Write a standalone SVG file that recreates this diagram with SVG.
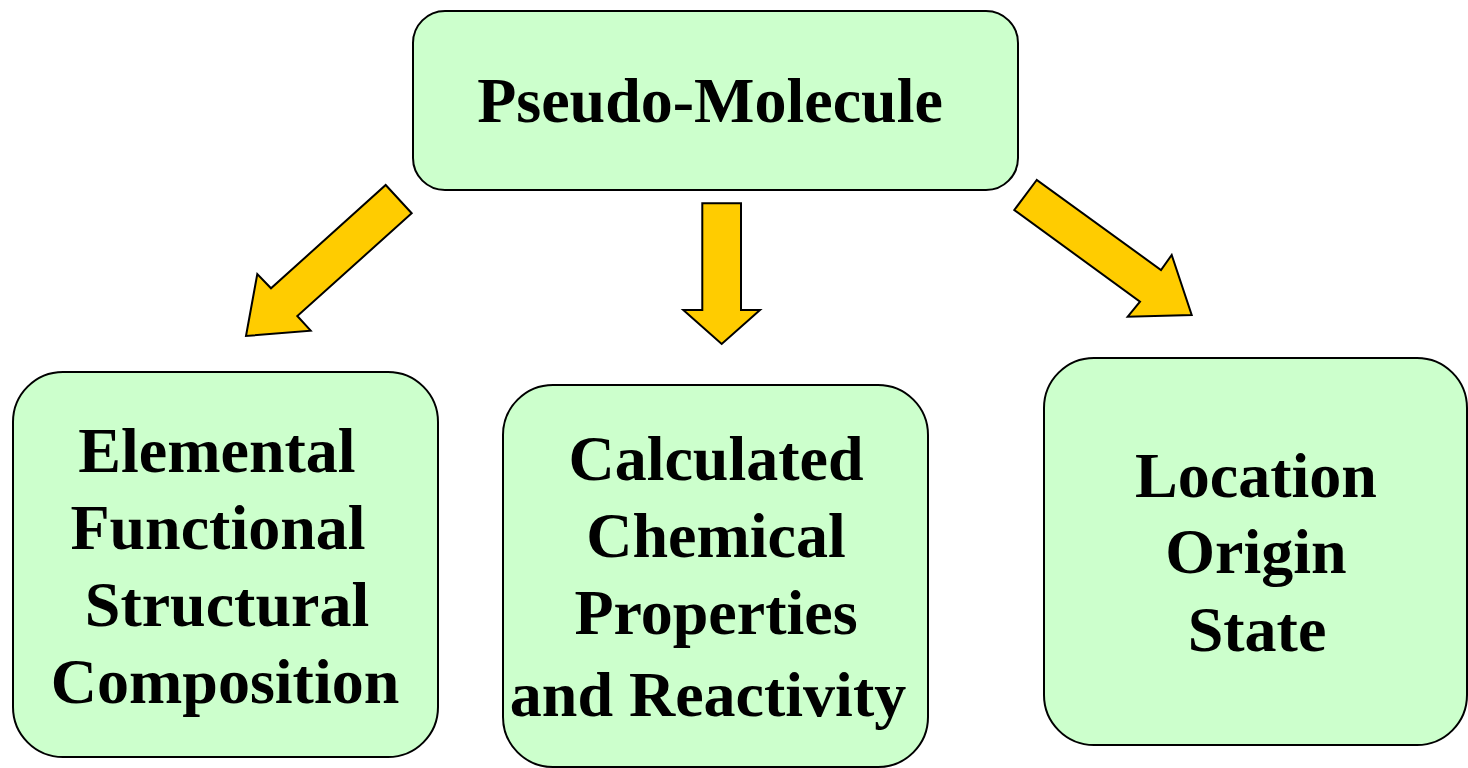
<svg xmlns="http://www.w3.org/2000/svg" width="1468" height="768" viewBox="0 0 1468 768">
<style>
.box{fill:#CCFFCC;stroke:#000;stroke-width:2}
.arrow{fill:#FFCC00;stroke:#000;stroke-width:2;stroke-linejoin:miter}
.t{font-family:"Liberation Serif","Times New Roman",serif;font-weight:bold;font-size:64px;fill:#000;text-anchor:middle}
</style>
<rect width="1468" height="768" fill="#fff"/>
<g id="connectors">
<polygon class="arrow" points="385.7,185 411.7,213.3 297.3,316 310.7,330.7 246,336 257.3,274 271,288.3"/>
<polygon class="arrow" points="702.3,203.3 741,203.3 741,310 760,310 721.7,344 683.3,310 702.3,310"/>
<polygon class="arrow" points="1036.7,180 1014.3,210 1140,301.7 1127.7,316.7 1191.7,315 1171.7,255 1161,270"/>
</g>
<g id="node-top">
<rect class="box" x="413" y="11" width="605" height="179" rx="32" ry="32"/>
<text class="t" x="710" y="122">Pseudo-Molecule</text>
</g>
<g id="node-left">
<rect class="box" x="13" y="372" width="425" height="385" rx="50" ry="50"/>
<text class="t" x="217" y="472">Elemental</text>
<text class="t" x="218" y="549">Functional</text>
<text class="t" x="227" y="626">Structural</text>
<text class="t" x="225" y="703">Composition</text>
</g>
<g id="node-middle">
<rect class="box" x="503" y="385" width="425" height="382" rx="50" ry="50"/>
<text class="t" x="716" y="480">Calculated</text>
<text class="t" x="716" y="557">Chemical</text>
<text class="t" x="716" y="634">Properties</text>
<text class="t" x="708" y="716">and Reactivity</text>
</g>
<g id="node-right">
<rect class="box" x="1044" y="358" width="423" height="387" rx="50" ry="50"/>
<text class="t" x="1256" y="497">Location</text>
<text class="t" x="1256" y="573">Origin</text>
<text class="t" x="1257" y="651">State</text>
</g>
</svg>
